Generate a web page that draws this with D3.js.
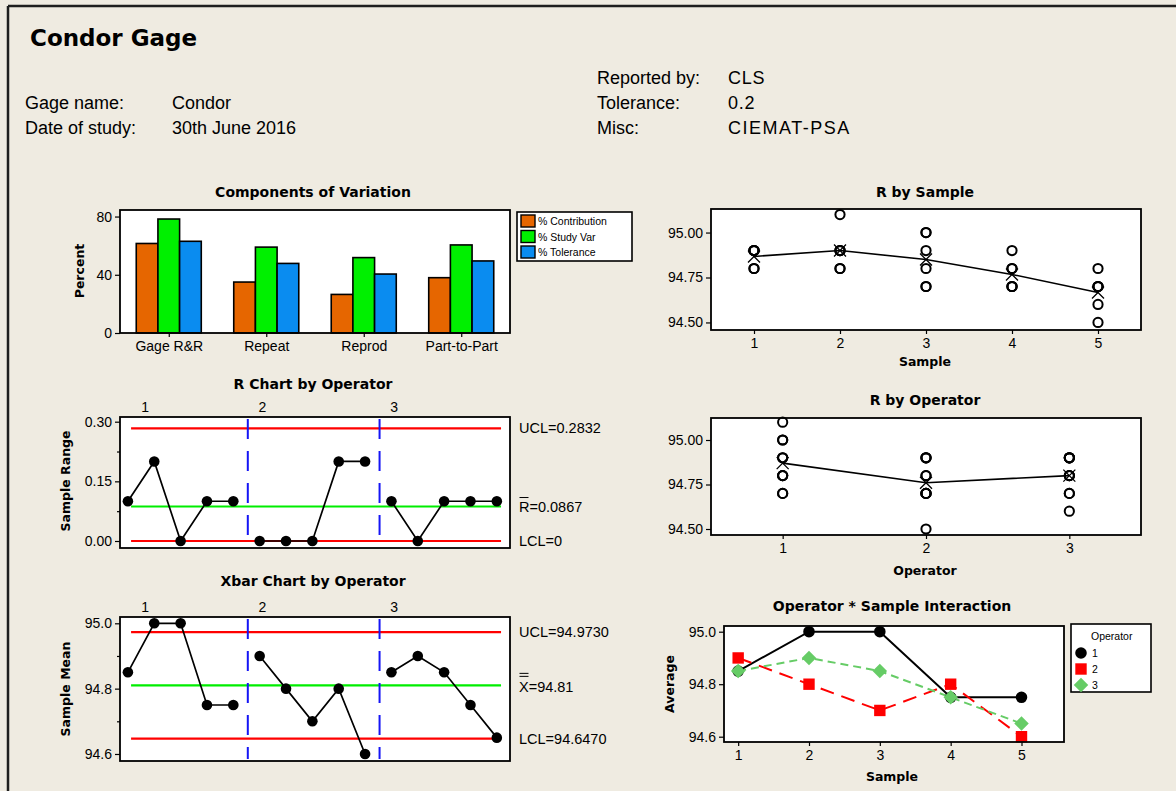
<!DOCTYPE html>
<html><head><meta charset="utf-8">
<script src="https://cdn.jsdelivr.net/npm/d3@7"></script>
<style>
html,body{margin:0;padding:0;background:#EFEBE1;}
svg{display:block;}
text{font-family:"Liberation Sans",Arial,sans-serif;fill:#000;}
.b{font-family:"DejaVu Sans",sans-serif;font-weight:bold;}
</style></head><body>
<svg id="c" width="1176" height="791"></svg>
<script>
// ---------------- DATA ----------------
const reportTitle = "Condor Gage";
const headerLeftLabels = ["Gage name:", "Date of study:"];
const headerLeftValues = ["Condor", "30th June 2016"];
const headerRightLabels = ["Reported by:", "Tolerance:", "Misc:"];
const headerRightValues = ["CLS", "0.2", "CIEMAT-PSA"];

const components = ["Gage R&R", "Repeat", "Reprod", "Part-to-Part"];
const compSeries = ["% Contribution", "% Study Var", "% Tolerance"];
const pctContribution = [61.5, 35.0, 26.5, 38.0];
const pctStudyVar = [78.3, 59.0, 51.8, 60.5];
const pctTolerance = [63.0, 47.8, 40.5, 49.5];
const compTicks = [0, 40, 80];

const operators = [1, 2, 3];
const samples = [1, 2, 3, 4, 5];

const rangeOp1 = [0.1, 0.2, 0.0, 0.1, 0.1];
const rangeOp2 = [0.0, 0.0, 0.0, 0.2, 0.2];
const rangeOp3 = [0.1, 0.0, 0.1, 0.1, 0.1];
const rLimits = [0.2832, 0.0867, 0];          // UCL, Rbar, LCL
const rLimitLabels = ["UCL=0.2832", "R=0.0867", "LCL=0"];
const rTicks = [0, 0.15, 0.30];

const meanOp1 = [94.85, 95.0, 95.0, 94.75, 94.75];
const meanOp2 = [94.9, 94.8, 94.7, 94.8, 94.6];
const meanOp3 = [94.85, 94.9, 94.85, 94.75, 94.65];
const xLimits = [94.973, 94.81, 94.647];      // UCL, Xbarbar, LCL
const xLimitLabels = ["UCL=94.9730", "X=94.81", "LCL=94.6470"];
const xbarTicks = [94.6, 94.8, 95.0];

// individual measurements: [sample] -> [trial1, trial2]
const measOp1 = [[94.8, 94.9], [94.9, 95.1], [95.0, 95.0], [94.7, 94.8], [94.7, 94.8]];
const measOp2 = [[94.9, 94.9], [94.8, 94.8], [94.7, 94.7], [94.7, 94.9], [94.5, 94.7]];
const measOp3 = [[94.8, 94.9], [94.9, 94.9], [94.8, 94.9], [94.7, 94.8], [94.6, 94.7]];
const sampleMeans = [94.867, 94.9, 94.85, 94.767, 94.667];
const operatorMeans = [94.87, 94.76, 94.80];
const byTicks = [94.5, 94.75, 95.0];
const interTicks = [94.6, 94.8, 95.0];

// ---------------- DRAW ----------------
const svg = d3.select("#c");
const BOX = 1.8;

// page border
svg.append("line").attr("x1", 8).attr("y1", 6).attr("x2", 1176).attr("y2", 6).attr("stroke", "#1e1e1e").attr("stroke-width", 2.5);
svg.append("line").attr("x1", 8).attr("y1", 6).attr("x2", 8).attr("y2", 791).attr("stroke", "#1e1e1e").attr("stroke-width", 2.5);

// header
svg.append("text").attr("class", "b").attr("x", 30).attr("y", 46).attr("font-size", 23).text(reportTitle);
headerLeftLabels.forEach((t, i) => {
  svg.append("text").attr("x", 25).attr("y", 109 + i * 25).attr("font-size", 18).text(t);
  svg.append("text").attr("x", 172).attr("y", 109 + i * 25).attr("font-size", 18).text(headerLeftValues[i]);
});
headerRightLabels.forEach((t, i) => {
  svg.append("text").attr("x", 597).attr("y", 84 + i * 25).attr("font-size", 18).text(t);
  svg.append("text").attr("x", 728).attr("y", 84 + i * 25).attr("font-size", 18)
    .attr("letter-spacing", i === 2 ? 1.5 : 0.8).text(headerRightValues[i]);
});

function title(x, y, t) {
  svg.append("text").attr("class", "b").attr("x", x).attr("y", y).attr("text-anchor", "middle").attr("font-size", 14).text(t);
}
function ylabel(x, y, t) {
  svg.append("text").attr("class", "b").attr("transform", `translate(${x},${y}) rotate(-90)`)
    .attr("text-anchor", "middle").attr("font-size", 12.5).text(t);
}
function xlabel(x, y, t) {
  svg.append("text").attr("class", "b").attr("x", x).attr("y", y).attr("text-anchor", "middle").attr("font-size", 12.5).text(t);
}
function frameBg(x0, x1, y0, y1) {
  svg.append("rect").attr("x", x0).attr("y", y0).attr("width", x1 - x0).attr("height", y1 - y0).attr("fill", "#fff");
}
function frameBorder(x0, x1, y0, y1) {
  svg.append("rect").attr("x", x0).attr("y", y0).attr("width", x1 - x0).attr("height", y1 - y0)
    .attr("fill", "none").attr("stroke", "#000").attr("stroke-width", BOX);
}
function leftAxis(scale, x0, ticks, fmt, minor) {
  const g = svg.append("g").attr("transform", `translate(${x0},0)`)
    .call(d3.axisLeft(scale).tickValues(ticks).tickFormat(fmt).tickSize(5).tickPadding(3));
  g.select(".domain").remove();
  g.selectAll("line").attr("stroke", "#000").attr("stroke-width", 1.2);
  g.selectAll("text").attr("font-size", 14).attr("font-family", "Liberation Sans, Arial, sans-serif");
  if (minor) {
    const gm = svg.append("g").attr("transform", `translate(${x0},0)`)
      .call(d3.axisLeft(scale).tickValues(minor).tickFormat("").tickSize(3));
    gm.select(".domain").remove();
    gm.selectAll("line").attr("stroke", "#000").attr("stroke-width", 1.2);
  }
  return g;
}
function bottomAxis(scale, y0, ticks, fmt) {
  const ax = d3.axisBottom(scale).tickSize(4).tickPadding(4);
  if (ticks) ax.tickValues(ticks);
  if (fmt) ax.tickFormat(fmt);
  const g = svg.append("g").attr("transform", `translate(0,${y0})`).call(ax);
  g.select(".domain").remove();
  g.selectAll("line").attr("stroke", "#000").attr("stroke-width", 1.2);
  g.selectAll("text").attr("font-size", 14).attr("font-family", "Liberation Sans, Arial, sans-serif");
  return g;
}

// ---------- Components of Variation ----------
{
  const x0 = 120, x1 = 510, y0 = 210, y1 = 333;
  title(313, 197, "Components of Variation");
  ylabel(84, 271, "Percent");
  frameBg(x0, x1, y0, y1);
  const y = d3.scaleLinear().domain([0, 84.5]).range([y1, y0]);
  const xb = d3.scaleBand().domain(components).range([x0, x1]).paddingInner(0.333).paddingOuter(0.1667);
  const xs = d3.scaleBand().domain(compSeries).range([0, xb.bandwidth()]);
  const colors = d3.scaleOrdinal().domain(compSeries).range(["#E66600", "#00F000", "#0A8CF0"]);
  const vals = [pctContribution, pctStudyVar, pctTolerance];
  const rows = [];
  components.forEach((c, i) => compSeries.forEach((s, j) => rows.push({ c, s, v: vals[j][i] })));
  svg.append("g").selectAll("rect").data(rows).join("rect")
    .attr("x", d => xb(d.c) + xs(d.s)).attr("width", xs.bandwidth())
    .attr("y", d => y(d.v)).attr("height", d => y(0) - y(d.v))
    .attr("fill", d => colors(d.s)).attr("stroke", "#000").attr("stroke-width", 1.6);
  frameBorder(x0, x1, y0, y1);
  leftAxis(y, x0, compTicks, d3.format("d"));
  const xp = d3.scalePoint().domain(components).range([xb(components[0]) + xb.bandwidth() / 2, xb(components[3]) + xb.bandwidth() / 2]);
  bottomAxis(xp, y1);
  // legend
  const lg = svg.append("g");
  lg.append("rect").attr("x", 517).attr("y", 212).attr("width", 115).attr("height", 49).attr("fill", "#fff").attr("stroke", "#000").attr("stroke-width", 1.6);
  compSeries.forEach((s, i) => {
    lg.append("rect").attr("x", 521).attr("y", 215 + i * 15.5).attr("width", 14).attr("height", 12)
      .attr("fill", colors(s)).attr("stroke", "#000").attr("stroke-width", 1.4);
    lg.append("text").attr("x", 538).attr("y", 225 + i * 15.5).attr("font-size", 10.5).text(s);
  });
}

// ---------- control chart helper ----------
const opLabelPos = [1.65, 6.1, 11.1];   // label anchor positions on the subgroup axis
function controlChart(cfg) {
  const { x0, x1, y0, y1, yDomain, series, limits, ticks, minor, fmt } = cfg;
  frameBg(x0, x1, y0, y1);
  const n = samples.length;
  const x = d3.scaleLinear().domain([0.7, operators.length * n + 0.5]).range([x0, x1]);
  const y = d3.scaleLinear().domain(yDomain).range([y1, y0]);
  const lineCol = ["#FF0000", "#00EE00", "#FF0000"];
  limits.forEach((v, i) => {
    svg.append("line").attr("x1", x(1.12)).attr("x2", x(15.16)).attr("y1", y(v)).attr("y2", y(v))
      .attr("stroke", lineCol[i]).attr("stroke-width", 2.2);
  });
  operators.slice(1).forEach((o, i) => {
    const xv = x((i + 1) * n + 0.55);
    svg.append("line").attr("x1", xv).attr("x2", xv).attr("y1", y0 + 2).attr("y2", y1 - 2)
      .attr("stroke", "#1515F5").attr("stroke-width", 2).attr("stroke-dasharray", "20,12");
  });
  const line = d3.line().x(d => x(d.i)).y(d => y(d.v));
  series.forEach((arr, k) => {
    const pts = arr.map((v, j) => ({ i: k * n + j + 1, v }));
    svg.append("path").attr("d", line(pts)).attr("fill", "none").attr("stroke", "#000").attr("stroke-width", 1.7);
    svg.append("g").selectAll("circle").data(pts).join("circle")
      .attr("cx", d => x(d.i)).attr("cy", d => y(d.v)).attr("r", 5.3).attr("fill", "#000");
  });
  frameBorder(x0, x1, y0, y1);
  leftAxis(y, x0, ticks, fmt, minor);
  operators.forEach((o, k) => {
    svg.append("text").attr("x", x(opLabelPos[k])).attr("y", y0 - 5).attr("text-anchor", "middle").attr("font-size", 14).text(o);
  });
  return { x, y };
}

// ---------- R Chart ----------
{
  title(313, 389, "R Chart by Operator");
  ylabel(70, 481, "Sample Range");
  const { y } = controlChart({
    x0: 120, x1: 510, y0: 417, y1: 548, yDomain: [-0.0176, 0.3118],
    series: [rangeOp1, rangeOp2, rangeOp3], limits: rLimits,
    ticks: rTicks, minor: [0.075, 0.225], fmt: d3.format(".2f")
  });
  rLimitLabels.forEach((t, i) => {
    svg.append("text").attr("x", 519).attr("y", y(rLimits[i]) + 5).attr("font-size", 14.5).text(t);
  });
  svg.append("line").attr("x1", 519.5).attr("x2", 528.5).attr("y1", y(rLimits[1]) - 9).attr("y2", y(rLimits[1]) - 9)
    .attr("stroke", "#000").attr("stroke-width", 1);
}

// ---------- Xbar Chart ----------
{
  title(313, 586, "Xbar Chart by Operator");
  ylabel(70, 689, "Sample Mean");
  const { y } = controlChart({
    x0: 120, x1: 510, y0: 617, y1: 761, yDomain: [94.5785, 95.0193],
    series: [meanOp1, meanOp2, meanOp3], limits: xLimits,
    ticks: xbarTicks, minor: [94.7, 94.9], fmt: d3.format(".1f")
  });
  xLimitLabels.forEach((t, i) => {
    svg.append("text").attr("x", 519).attr("y", y(xLimits[i]) + (i === 1 ? 7 : 5)).attr("font-size", 14.5).text(t);
  });
  // double bar over X
  [-9, -12].forEach(dy => {
    svg.append("line").attr("x1", 519.5).attr("x2", 528.5).attr("y1", y(xLimits[1]) + dy).attr("y2", y(xLimits[1]) + dy)
      .attr("stroke", "#000").attr("stroke-width", 1);
  });
}

// ---------- By plots ----------
function byPlot(cfg) {
  const { x0, x1, y0, y1, yDomain, xDomain, cats, groups, means } = cfg;
  frameBg(x0, x1, y0, y1);
  const x = d3.scaleLinear().domain(xDomain).range([x0, x1]);
  const y = d3.scaleLinear().domain(yDomain).range([y1, y0]);
  const pts = [];
  groups.forEach((vals, i) => vals.forEach(v => pts.push({ c: cats[i], v })));
  svg.append("g").selectAll("circle").data(pts).join("circle")
    .attr("cx", d => x(d.c)).attr("cy", d => y(d.v)).attr("r", 4.6)
    .attr("fill", "none").attr("stroke", "#000").attr("stroke-width", 2);
  const mp = means.map((v, i) => ({ c: cats[i], v }));
  svg.append("path").attr("d", d3.line().x(d => x(d.c)).y(d => y(d.v))(mp))
    .attr("fill", "none").attr("stroke", "#000").attr("stroke-width", 1.6);
  const mg = svg.append("g").selectAll("g").data(mp).join("g")
    .attr("transform", d => `translate(${x(d.c)},${y(d.v)})`);
  mg.append("path").attr("d", "M-6,-6L6,6M-6,6L6,-6").attr("stroke", "#000").attr("stroke-width", 1.3);
  frameBorder(x0, x1, y0, y1);
  leftAxis(y, x0, byTicks, d3.format(".2f"));
  bottomAxis(x, y1, cats, d3.format("d"));
}

{
  title(925, 197, "R by Sample");
  const groups = samples.map((s, i) => [...measOp1[i], ...measOp2[i], ...measOp3[i]]);
  byPlot({ x0: 711, x1: 1141, y0: 209, y1: 330, yDomain: [94.458, 95.131], xDomain: [0.5, 5.5],
    cats: samples, groups, means: sampleMeans });
  xlabel(925, 366, "Sample");
}
{
  title(925, 405, "R by Operator");
  const groups = [measOp1.flat(), measOp2.flat(), measOp3.flat()];
  byPlot({ x0: 711, x1: 1141, y0: 418, y1: 535, yDomain: [94.4663, 95.1236], xDomain: [0.5, 3.5],
    cats: operators, groups, means: operatorMeans });
  xlabel(925, 575, "Operator");
}

// ---------- Interaction ----------
{
  const x0 = 724, x1 = 1064, y0 = 626, y1 = 742;
  title(892, 611, "Operator * Sample Interaction");
  ylabel(674, 684, "Average");
  frameBg(x0, x1, y0, y1);
  const x = d3.scaleLinear().domain([0.8, 5.6]).range([x0, x1]);
  const y = d3.scaleLinear().domain([94.5798, 95.0217]).range([y1, y0]);
  const cols = ["#000000", "#FF0000", "#66CC66"];
  const dashes = [null, "14,8", "8,5"];
  const shapes = [d3.symbolCircle, d3.symbolSquare, d3.symbolSquare];
  const rot = [0, 0, 45];
  const sizes = [105, 130, 105];
  const seriesData = [meanOp1, meanOp2, meanOp3];
  seriesData.forEach((arr, k) => {
    const pts = arr.map((v, j) => ({ s: samples[j], v }));
    svg.append("path").attr("d", d3.line().x(d => x(d.s)).y(d => y(d.v))(pts))
      .attr("fill", "none").attr("stroke", cols[k]).attr("stroke-width", 2)
      .attr("stroke-dasharray", dashes[k]);
  });
  seriesData.forEach((arr, k) => {
    svg.append("g").selectAll("path").data(arr).join("path")
      .attr("transform", (v, j) => `translate(${x(samples[j])},${y(v)}) rotate(${rot[k]})`)
      .attr("d", d3.symbol().type(shapes[k]).size(sizes[k])).attr("fill", cols[k]);
  });
  frameBorder(x0, x1, y0, y1);
  leftAxis(y, x0, interTicks, d3.format(".1f"));
  bottomAxis(x, y1, samples, d3.format("d"));
  xlabel(892, 781, "Sample");
  const lg = svg.append("g");
  lg.append("rect").attr("x", 1071).attr("y", 624).attr("width", 80).attr("height", 68).attr("fill", "#fff").attr("stroke", "#000").attr("stroke-width", 1.6);
  lg.append("text").attr("x", 1091).attr("y", 640).attr("font-size", 10.5).text("Operator");
  operators.forEach((o, k) => {
    lg.append("path").attr("transform", `translate(1081,${653 + k * 16}) rotate(${rot[k]})`)
      .attr("d", d3.symbol().type(shapes[k]).size(sizes[k])).attr("fill", cols[k]);
    lg.append("text").attr("x", 1092).attr("y", 657 + k * 16).attr("font-size", 10.5).text(o);
  });
}
</script>
</body></html>
